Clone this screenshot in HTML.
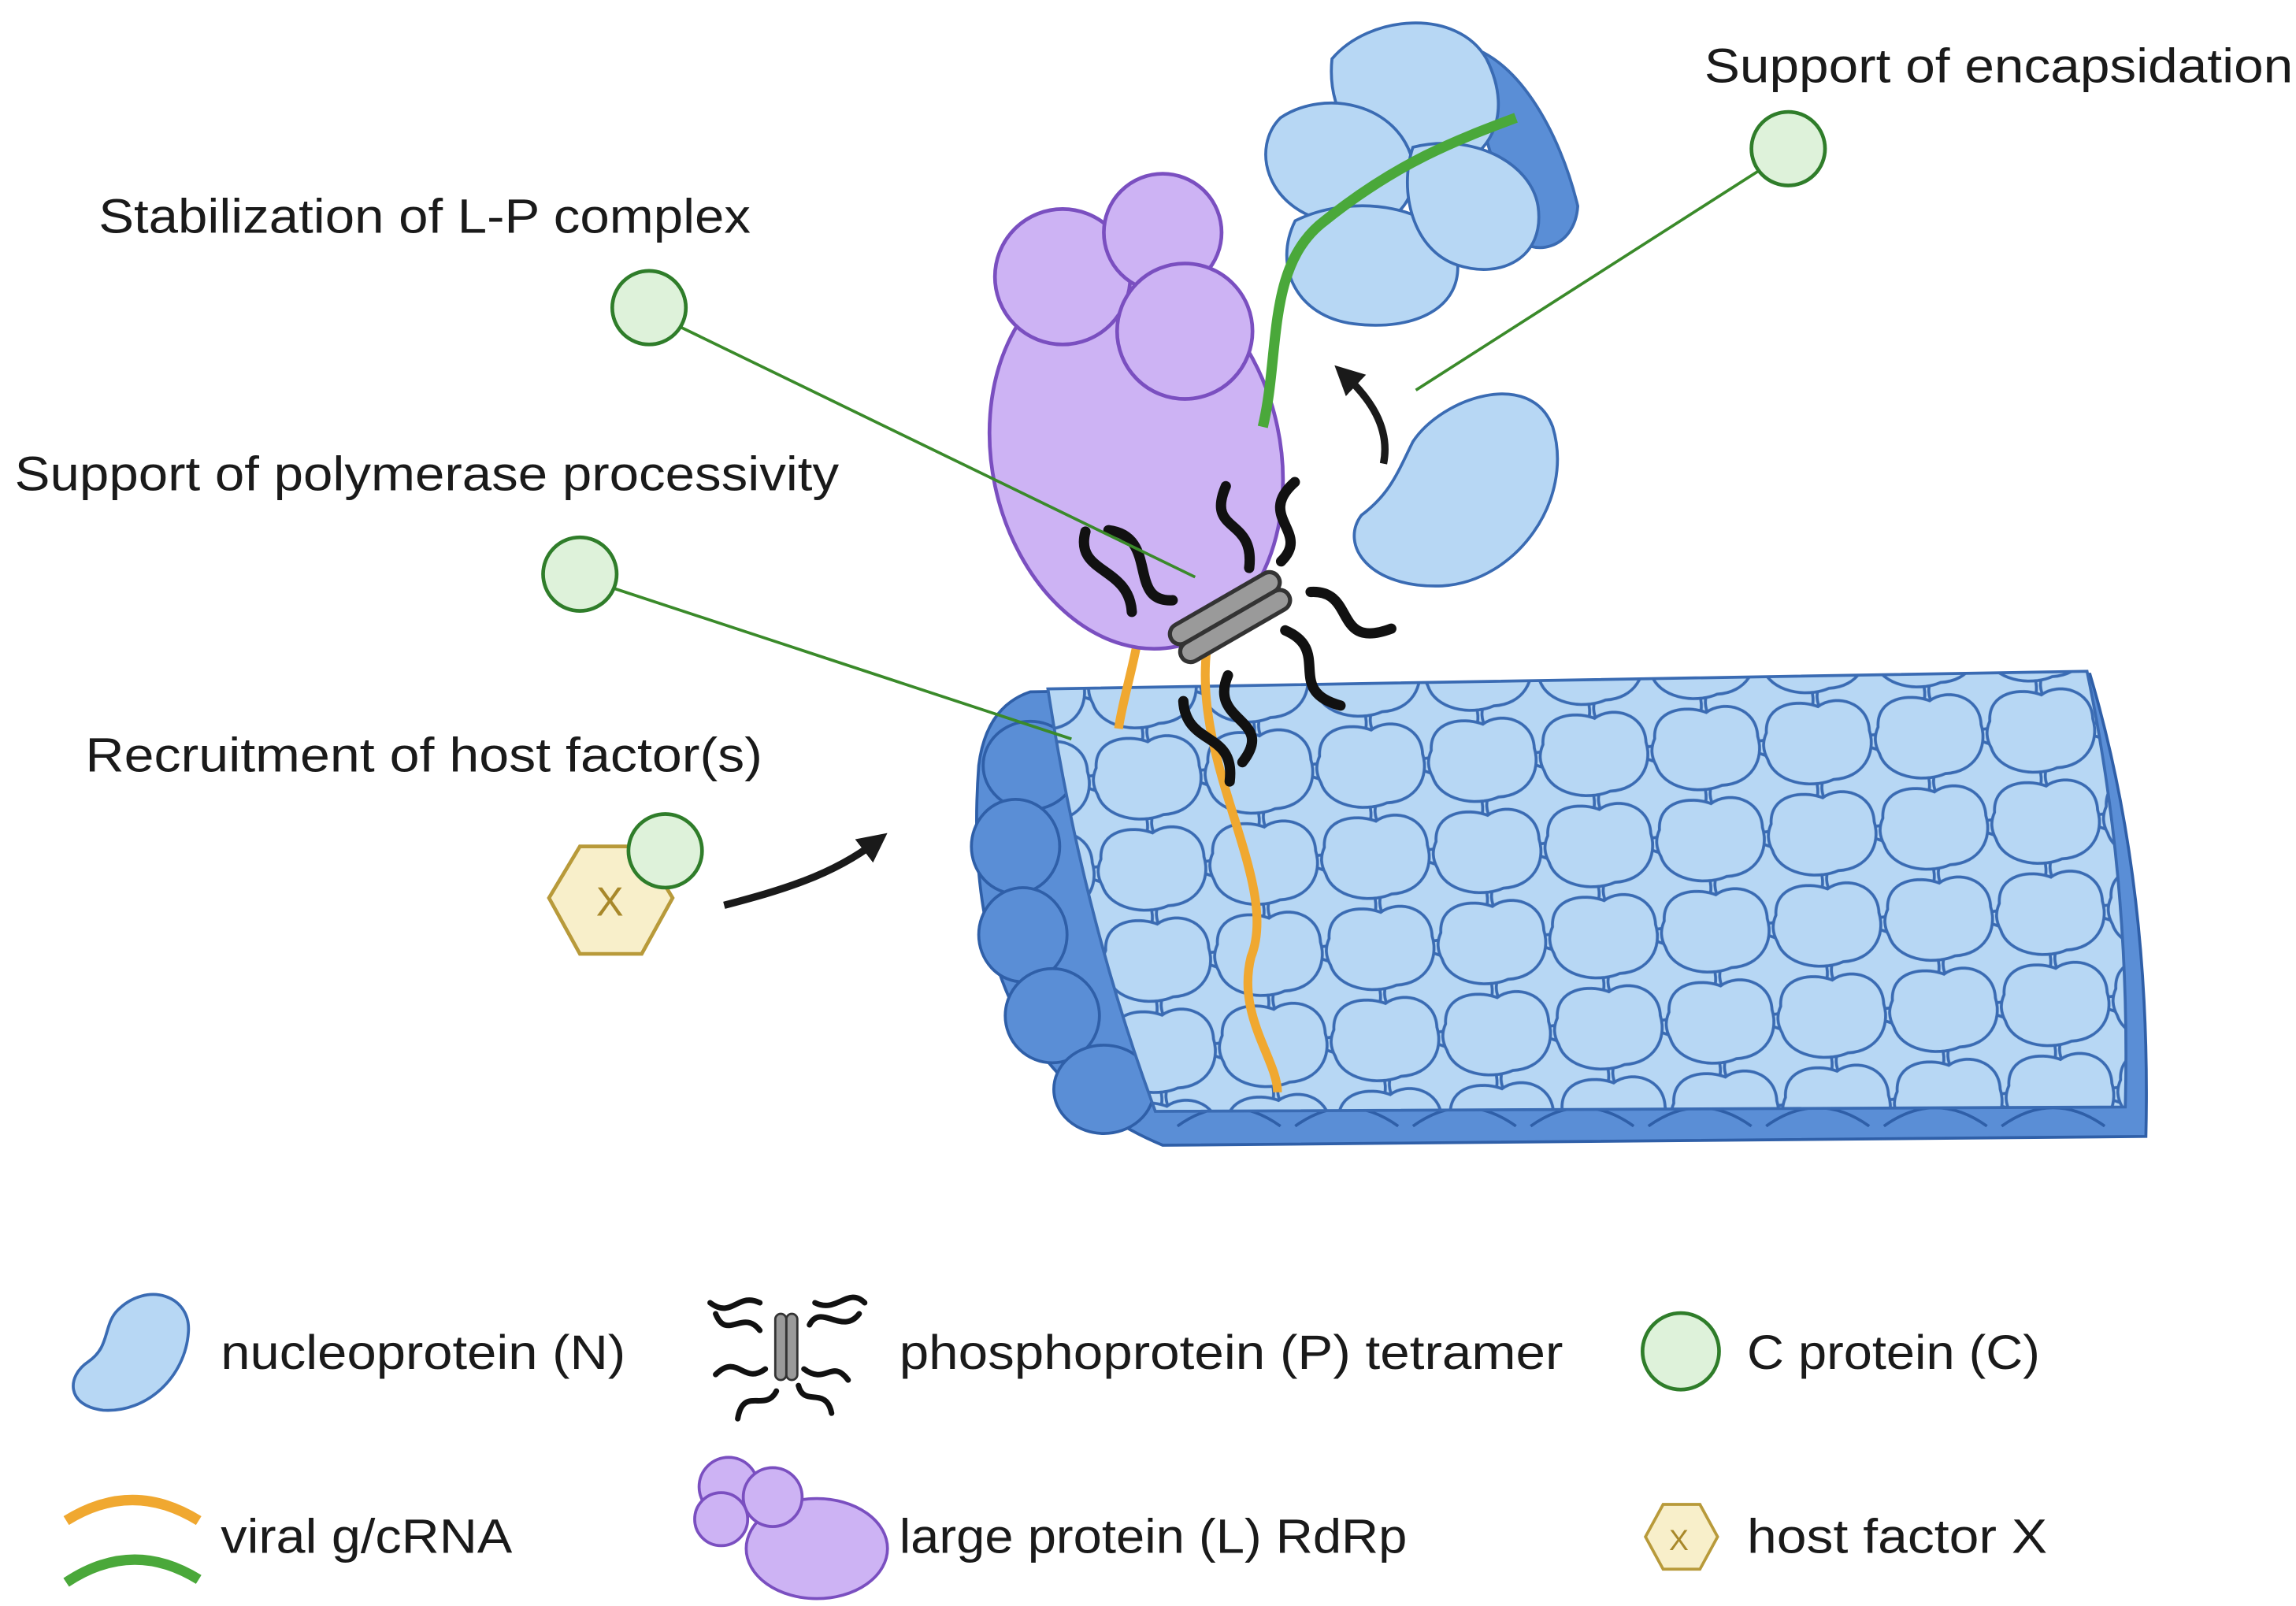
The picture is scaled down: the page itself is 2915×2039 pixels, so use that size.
<!DOCTYPE html>
<html><head><meta charset="utf-8"><style>
html,body{margin:0;padding:0;background:#fff;}
svg{display:block;}
text{font-family:"Liberation Sans",sans-serif;font-size:33px;fill:#1a1a1a;}
</style></head><body>
<svg width="2915" height="2039" viewBox="0 0 1560 1091" preserveAspectRatio="none" xmlns="http://www.w3.org/2000/svg">
<defs>
<path id="blob" d="M-34,-8 C-34,-28 -12,-30 2,-24 C14,-32 36,-26 36,-6 C40,10 30,26 10,26 C-6,32 -30,26 -34,10 C-38,2 -36,-4 -34,-8 Z"/>
<pattern id="scales" x="0" y="0" width="76" height="62" patternUnits="userSpaceOnUse" patternTransform="translate(700,470) rotate(-3)">
<rect width="76" height="62" fill="#b7d7f4"/>
<use href="#blob" x="38" y="31" fill="#b7d7f4" stroke="#3a6bb3" stroke-width="2"/>
<use href="#blob" x="0" y="0" fill="#b7d7f4" stroke="#3a6bb3" stroke-width="2"/>
<use href="#blob" x="76" y="0" fill="#b7d7f4" stroke="#3a6bb3" stroke-width="2"/>
<use href="#blob" x="0" y="62" fill="#b7d7f4" stroke="#3a6bb3" stroke-width="2"/>
<use href="#blob" x="76" y="62" fill="#b7d7f4" stroke="#3a6bb3" stroke-width="2"/>
</pattern>
<marker id="ah" viewBox="0 0 10 10" refX="5" refY="5" markerWidth="4" markerHeight="4" orient="auto"><path d="M0,0 L10,5 L0,10 Z" fill="#1a1a1a"/></marker>
<g id="ptet">
<path d="M-40,-25 c10,-20 -15,-30 0,-45 M-20,-20 c-20,-10 10,-30 -10,-45 M20,-15 c15,-20 -10,-25 10,-40 M35,-10 c20,-5 0,-25 25,-30 M-40,25 c-10,20 15,25 0,45 M-15,25 c-20,15 10,30 -15,40 M20,20 c15,20 -15,25 5,45 M40,10 c20,10 -5,30 25,35" fill="none" stroke="#111" stroke-width="5" stroke-linecap="round"/>
<rect x="-30" y="-9" width="60" height="10" rx="5" fill="#9a9a9a" stroke="#333" stroke-width="2"/>
<rect x="-30" y="1" width="60" height="10" rx="5" fill="#9a9a9a" stroke="#333" stroke-width="2"/>
</g>
</defs>

<path d="M700,470 L1420,458 Q1462,600 1458,772 L790,778 Q650,720 665,520 Q670,480 700,470 Z" fill="#5a8ed6" stroke="#2f5fa8" stroke-width="2"/>
<g fill="#5a8ed6" stroke="#2f5fa8" stroke-width="2">
<ellipse cx="700" cy="520" rx="32" ry="30"/>
<ellipse cx="690" cy="575" rx="30" ry="32"/>
<ellipse cx="695" cy="635" rx="30" ry="32"/>
<ellipse cx="715" cy="690" rx="32" ry="32"/>
<ellipse cx="750" cy="740" rx="34" ry="30"/>
</g>
<g fill="#5a8ed6" stroke="#2f5fa8" stroke-width="2">
<path d="M800,765 q35,-25 70,0"/><path d="M880,765 q35,-25 70,0"/><path d="M960,765 q35,-25 70,0"/><path d="M1040,765 q35,-25 70,0"/><path d="M1120,765 q35,-25 70,0"/><path d="M1200,765 q35,-25 70,0"/><path d="M1280,765 q35,-25 70,0"/><path d="M1360,765 q35,-25 70,0"/>
</g>
<path d="M712,468 L1418,456 Q1448,600 1444,752 L785,755 Q735,620 712,468 Z" fill="url(#scales)" stroke="#3a6bb3" stroke-width="2"/>

<path d="M820,440 C810,520 870,600 850,650 C840,690 868,720 868,742" fill="none" stroke="#f0a830" stroke-width="6"/>
<path d="M772,440 C768,460 762,480 760,495" fill="none" stroke="#f0a830" stroke-width="6"/>

<g fill="#cdb3f4" stroke="#7a4fc0" stroke-width="2.5">
<ellipse cx="772" cy="310" rx="98" ry="132" transform="rotate(-12 772 310)"/>
<circle cx="722" cy="188" r="46"/>
<circle cx="790" cy="158" r="40"/>
<circle cx="805" cy="225" r="46"/>
</g>

<g fill="#b7d7f4" stroke="#3a6bb3" stroke-width="2">
<path d="M990,30 C1030,35 1060,90 1072,140 C1070,170 1040,175 1030,160 Z" fill="#5a8ed6"/>
<path d="M905,40 C930,10 990,5 1010,40 C1030,80 1010,110 980,115 C940,120 900,90 905,40 Z"/>
<path d="M870,80 C900,60 950,70 960,110 C965,150 930,160 900,150 C860,140 850,100 870,80 Z"/>
<path d="M880,150 C920,130 980,140 990,175 C995,210 960,225 920,220 C880,215 865,180 880,150 Z"/>
<path d="M960,100 C1000,90 1040,110 1045,140 C1050,175 1020,190 990,180 C960,170 950,130 960,100 Z"/>
</g>
<path d="M858,290 C870,240 860,180 900,150 C950,110 990,95 1030,80" fill="none" stroke="#4aa83a" stroke-width="7"/>

<path d="M960,300 C980,270 1040,250 1055,290 C1070,340 1030,395 980,398 C930,400 910,370 925,350 C945,335 950,320 960,300 Z" fill="#b7d7f4" stroke="#3a6bb3" stroke-width="2"/>

<g transform="translate(835,418) rotate(-30) scale(1.4)"><use href="#ptet"/></g>

<path d="M940,315 C945,290 930,270 914,255" fill="none" stroke="#1a1a1a" stroke-width="5" marker-end="url(#ah)"/>
<path d="M492,615 C530,605 565,595 595,572" fill="none" stroke="#1a1a1a" stroke-width="5" marker-end="url(#ah)"/>

<g stroke="#3a8a2a" stroke-width="2">
<line x1="1195" y1="116" x2="962" y2="265"/>
<line x1="462" y1="222" x2="812" y2="392"/>
<line x1="418" y1="400" x2="728" y2="502"/>
</g>
<g fill="#def2da" stroke="#2f7d2a" stroke-width="2.5">
<circle cx="1215" cy="101" r="25"/>
<circle cx="441" cy="209" r="25"/>
<circle cx="394" cy="390" r="25"/>
</g>

<polygon points="394,575 436,575 457,610 436,648 394,648 373,610" fill="#f8efca" stroke="#b89a3a" stroke-width="2.5"/>
<text x="405" y="622" style="fill:#a8882a;font-size:28px">X</text>
<circle cx="452" cy="578" r="25" fill="#def2da" stroke="#2f7d2a" stroke-width="2.5"/>

<text x="1158" y="56" textLength="400" lengthAdjust="spacingAndGlyphs">Support of encapsidation</text>
<text x="67" y="158" textLength="443" lengthAdjust="spacingAndGlyphs">Stabilization of L-P complex</text>
<text x="10" y="333" textLength="560" lengthAdjust="spacingAndGlyphs">Support of polymerase processivity</text>
<text x="58" y="524" textLength="460" lengthAdjust="spacingAndGlyphs">Recruitment of host factor(s)</text>

<path d="M80,890 C100,870 130,880 128,905 C126,935 100,960 70,958 C45,955 45,935 60,925 C75,915 70,900 80,890 Z" fill="#b7d7f4" stroke="#3a6bb3" stroke-width="2"/>
<text x="150" y="930" textLength="275" lengthAdjust="spacingAndGlyphs">nucleoprotein (N)</text>
<g transform="translate(535,915) scale(0.75) rotate(90)"><use href="#ptet"/></g>
<text x="611" y="930" textLength="451" lengthAdjust="spacingAndGlyphs">phosphoprotein (P) tetramer</text>
<circle cx="1142" cy="918" r="26" fill="#def2da" stroke="#2f7d2a" stroke-width="2.5"/>
<text x="1187" y="930" textLength="199" lengthAdjust="spacingAndGlyphs">C protein (C)</text>

<path d="M45,1033 Q90,1005 135,1033" fill="none" stroke="#f0a830" stroke-width="7"/>
<path d="M45,1075 Q90,1045 135,1073" fill="none" stroke="#4aa83a" stroke-width="7"/>
<text x="150" y="1055" textLength="198" lengthAdjust="spacingAndGlyphs">viral g/cRNA</text>
<g fill="#cdb3f4" stroke="#7a4fc0" stroke-width="2">
<ellipse cx="555" cy="1052" rx="48" ry="34"/>
<circle cx="495" cy="1010" r="20"/>
<circle cx="525" cy="1017" r="20"/>
<circle cx="490" cy="1032" r="18"/>
</g>
<text x="611" y="1055" textLength="345" lengthAdjust="spacingAndGlyphs">large protein (L) RdRp</text>
<polygon points="1130,1022 1155,1022 1167,1044 1155,1066 1130,1066 1118,1044" fill="#f8efca" stroke="#b89a3a" stroke-width="2"/>
<text x="1134" y="1053" style="fill:#a8882a;font-size:20px">X</text>
<text x="1187" y="1055" textLength="204" lengthAdjust="spacingAndGlyphs">host factor X</text>
</svg>
</body></html>
